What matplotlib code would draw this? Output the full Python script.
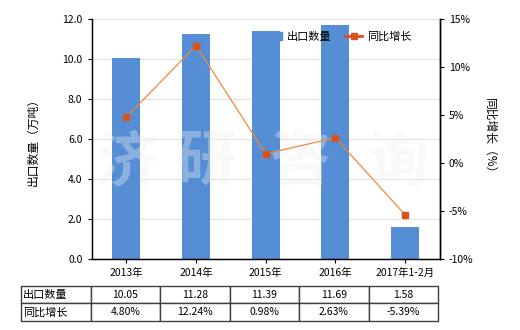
import matplotlib
matplotlib.use('Agg')
import matplotlib.pyplot as plt
from matplotlib.patches import Patch
from matplotlib.lines import Line2D
from matplotlib.ticker import FuncFormatter
import numpy as np

plt.rcParams['font.family'] = ['Noto Sans CJK SC', 'DejaVu Sans']

categories = ['2013年', '2014年', '2015年', '2016年', '2017年1-2月']
export_qty = [10.05, 11.28, 11.39, 11.69, 1.58]       # 万吨
yoy_growth = [4.80, 12.24, 0.98, 2.63, -5.39]         # %
qty_labels = ['10.05', '11.28', '11.39', '11.69', '1.58']
yoy_labels = ['4.80%', '12.24%', '0.98%', '2.63%', '-5.39%']

BAR = '#558ed5'
LINE = '#f0883a'
MARK = '#d9531e'

fig = plt.figure(figsize=(5.2, 3.3), dpi=100)
ax = fig.add_axes([0.176, 0.215, 0.670, 0.727])
x = np.arange(len(categories))

ax.bar(x, export_qty, width=0.4, color=BAR, zorder=2)
ax.set_xlim(-0.5, len(categories) - 0.5)
ax.set_ylim(0, 12)
ax.set_yticks(np.arange(0, 12.1, 2))
ax.yaxis.set_major_formatter(FuncFormatter(lambda v, p: f'{v:.1f}'))
ax.grid(axis='y', color='#e3e3e3', linewidth=0.8, zorder=0)
ax.set_axisbelow(True)
ax.set_xticks(x)
ax.set_xticklabels(categories)
ax.tick_params(axis='both', labelsize=7.5, length=3, width=0.8, color='black')
ax.spines['top'].set_visible(False)
for s in ('left', 'right', 'bottom'):
    ax.spines[s].set_linewidth(1.0)
ax.set_ylabel('出口数量（万吨）', fontsize=8.5, labelpad=16)

# watermark
for xp, ch in zip([0.0, 1.15, 2.5, 3.9], '济研咨询'):
    ax.text(xp, 4.8, ch, fontsize=44, fontweight='bold', color='#f0f0f0',
            alpha=0.35, ha='center', va='center', zorder=2.5)

ax2 = ax.twinx()
ax2.plot(x, yoy_growth, color=LINE, linewidth=0.9, marker='s', markersize=4.5,
         markerfacecolor=MARK, markeredgecolor=MARK, zorder=3)
ax2.set_ylim(-10, 15)
ax2.set_yticks(np.arange(-10, 15.1, 5))
ax2.yaxis.set_major_formatter(FuncFormatter(lambda v, p: f'{v:.0f}%'))
ax2.tick_params(axis='y', labelsize=7.5, length=3, width=0.8)
ax2.spines['top'].set_visible(False)
ax2.spines['right'].set_linewidth(1.0)
ax2.set_ylabel('同比增长（%）', fontsize=8.5, rotation=-90, labelpad=16)

handles = [Patch(color=BAR, label='出口数量'),
           Line2D([0], [0], color=MARK, linewidth=2, marker='s', markersize=4,
                  label='同比增长')]
fig.legend(handles=handles, ncol=2, loc='center', bbox_to_anchor=(0.65, 0.888),
           frameon=False, fontsize=8, handlelength=1.6, columnspacing=1.2,
           handletextpad=0.4)

# data table under the chart
cell_text = [['出口数量'] + qty_labels, ['同比增长'] + yoy_labels]
tab = fig.add_axes([0.0404, 0.027, 0.802, 0.107])
tab.axis('off')
t = tab.table(cellText=cell_text, bbox=[0, 0, 1, 1],
              colWidths=[69.7] + [69.5] * 5, cellLoc='center')
t.auto_set_font_size(False)
for (r, c), cell in t.get_celld().items():
    cell.set_edgecolor('#404040')
    cell.set_linewidth(1.0)
    cell.get_text().set_fontsize(8 if c == 0 else 7.5)
    if c == 0:
        cell.get_text().set_ha('left')
        cell._loc = 'left'
        cell.PAD = 0.03

fig.savefig('out.png', dpi=100)
